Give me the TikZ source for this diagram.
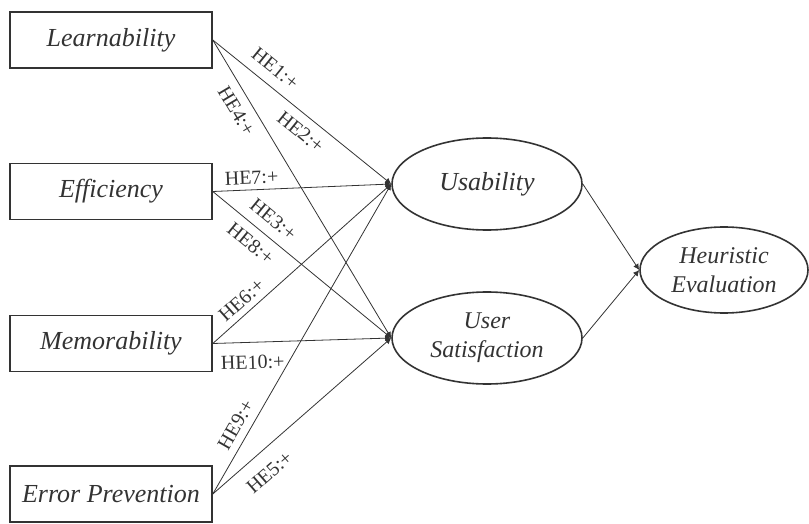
\documentclass[tikz,border=0pt]{standalone}
\usepackage{fontspec}
\setmainfont{Liberation Serif}
\usetikzlibrary{positioning}
\usetikzlibrary{arrows.meta}
\usetikzlibrary{shapes.geometric}
\definecolor{ink}{HTML}{333333}
\tikzset{
  factor/.style={draw=ink,text=ink,line width=1.6pt,minimum width=202pt,minimum height=56pt,inner sep=0pt,font=\fontsize{26}{30}\selectfont\itshape},
  latent/.style={draw=ink,text=ink,ellipse,line width=1.6pt,inner sep=0pt,align=center,font=\fontsize{24}{29}\selectfont\itshape},
  link/.style={draw=ink,line width=0.8pt,-{Latex[length=6pt,width=6pt]}},
  hyp/.style={text=ink,sloped,inner sep=1pt,font=\fontsize{20}{24}\selectfont}
}
\begin{document}
\begin{tikzpicture}[x=1pt,y=-1pt]
\useasboundingbox (0,0) rectangle (809,524);
% determinants
\node[factor] (learn) at (111,40) {Learnability};
\node[factor] (effic) at (111,191.5) {Efficiency};
\node[factor] (memor) at (111,343.5) {Memorability};
\node[factor] (error) at (111,494) {Error Prevention};
% constructs
\node[latent,minimum width=190pt,minimum height=92pt,font=\fontsize{26}{30}\selectfont\itshape] (usab) at (487,184) {Usability};
\node[latent,minimum width=190pt,minimum height=92pt] (usat) at (487,338) {User\\Satisfaction};
\node[latent,minimum width=168pt,minimum height=86pt] (heur) at (724,270) {Heuristic\\Evaluation};
%%%%%%%%%%%%%%%%%%%%%%%%%%%%%%%%%
\draw[link] (learn.east) -- node[hyp,above=9pt,pos=.29] {HE1:+} node[hyp,below=8pt,pos=.55] {HE2:+} (usab.west);
\draw[link] (learn.east) -- node[hyp,below=8pt,pos=.21] {HE4:+} (usat.west);
\draw[link] (effic.east) -- node[hyp,above=4pt,pos=.22] {HE7:+} (usab.west);
\draw[link] (effic.east) -- node[hyp,above=8.5pt,pos=.28] {HE3:+} node[hyp,below=8pt,pos=.27] {HE8:+} (usat.west);
\draw[link] (memor.east) -- node[hyp,above=5pt,pos=.21] {HE6:+} (usab.west);
\draw[link] (memor.east) -- node[hyp,below=12pt,pos=.22] {HE10:+} (usat.west);
\draw[link] (error.east) -- node[hyp,above=6.5pt,pos=.2] {HE9:+} (usab.west);
\draw[link] (error.east) -- node[hyp,below=13pt,pos=.24] {HE5:+} (usat.west);
%%%%%%%%%%%%%%%%%%%%%%%%%%%%%%%%%
\draw[link] (usab.east) -- (heur.west);
\draw[link] (usat.east) -- (heur.west);
\end{tikzpicture}
\end{document}
